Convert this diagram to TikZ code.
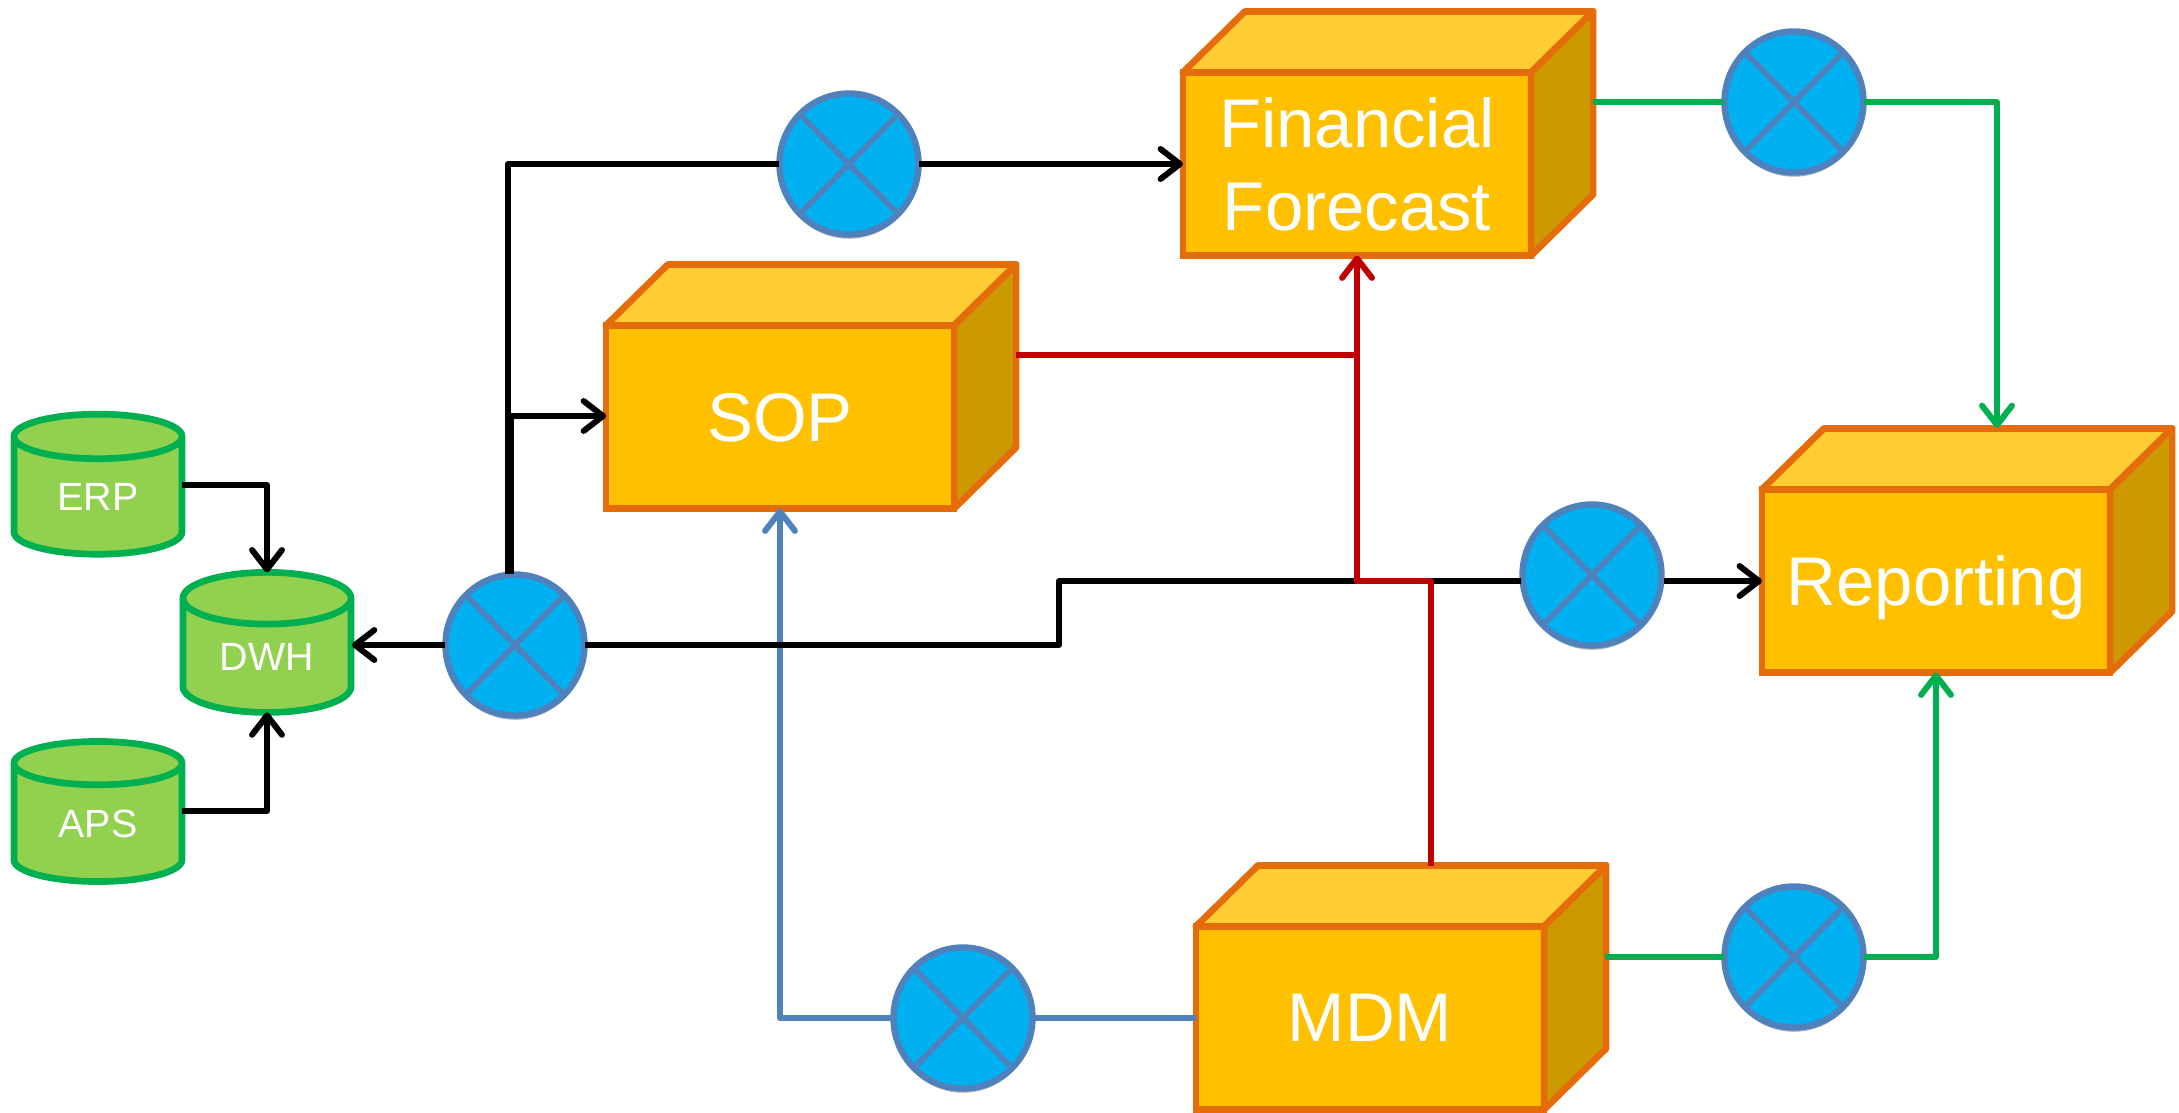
\documentclass[tikz,border=0pt]{standalone}
\usepackage{fontspec}
\setmainfont{Liberation Sans}
\usetikzlibrary{arrows.meta,shapes.geometric,shadows}
\definecolor{boxline}{HTML}{E46C0A}
\definecolor{boxfront}{HTML}{FFC000}
\definecolor{boxtop}{HTML}{FFCD33}
\definecolor{boxside}{HTML}{CC9A00}
\definecolor{dbline}{HTML}{00B050}
\definecolor{dbfill}{HTML}{92D050}
\definecolor{mixfill}{HTML}{00B0F0}
\definecolor{mixline}{HTML}{4F81BD}
\definecolor{redline}{HTML}{C00000}
\tikzset{
	boxnode/.style={rectangle,draw=boxline,fill=boxfront,line width=1.9pt,outer sep=0pt,
		minimum width=3.48cm,minimum height=1.83cm,text=white,align=center,text depth=0pt,
		font=\fontsize{19.6pt}{23.4pt}\selectfont},
	boxface/.style={draw=boxline,line width=1.9pt,line join=round},
	dbnode/.style={cylinder,shape border rotate=90,aspect=0.55,draw=dbline,fill=dbfill,
		line width=1.9pt,outer sep=0pt,inner sep=0pt,minimum width=1.68cm,minimum height=1.40cm,
		text=white,font=\fontsize{11.2pt}{13pt}\selectfont},
	mixnode/.style={ellipse,draw=mixline,fill=mixfill,line width=1.8pt,outer sep=0pt,inner sep=0pt,
		minimum width=1.39cm,minimum height=1.41cm,
		drop shadow={shadow xshift=0pt,shadow yshift=-1.2pt,fill=gray,opacity=0.6}},
	mixcross/.style={draw=mixline,line width=1.6pt},
	wire/.style={line width=1.7pt,line join=round},
}
\begin{document}
\begin{tikzpicture}[x=0.01cm,y=-0.01cm,>={Straight Barb[length=5.5pt,width=8.5pt,round]}]
	\useasboundingbox (0,0) rectangle (2179,1112);
	% boxes
	\foreach \name/\x/\y/\txt in {fin/1357/164/{Financial\\Forecast},sop/780/417/SOP,rep/1936/581/Reporting,mdm/1370/1018/MDM}{
		\node[boxnode] (\name) at (\x,\y) {\txt};
		\draw[boxface,fill=boxtop] (\name.north west) -- ++(62,-61) -- ++(348,0) -- (\name.north east) -- cycle;
		\draw[boxface,fill=boxside] (\name.north east) -- ++(62,-61) -- ++(0,183) -- (\name.south east) -- cycle;
	}
	% databases
	\foreach \name/\x/\y/\txt in {erp/98/497/ERP,dwh/267/657/DWH,aps/98/824/APS}{
		\node[dbnode] (\name) at (\x,\y) {\txt};
	}
	% mixers
	\foreach \name/\x/\y in {mixtop/849/164,mixfin/1794/102,mixrep/1592/575,mixdwh/515/645,mixsop/963/1018,mixmdm/1794/957}{
		\node[mixnode] (\name) at (\x,\y) {};
		\draw[mixcross] (\name.north west) -- (\name.south east);
		\draw[mixcross] (\name.north east) -- (\name.south west);
	}
	\coordinate (finout) at (1593,102);
	\coordinate (mdmout) at (1605,957);
	\coordinate (sopout) at (1016,355);
	\coordinate (erpout) at (182,485);
	\coordinate (apsout) at (182,811);
	\coordinate (dwhin) at (352,645);
	\coordinate (upper) at (508,574);
	\coordinate (lower) at (511,574);
	\coordinate (sopin) at (606,416);
	\coordinate (mdmtop) at (1431,866);
	\coordinate (fork) at (1357,581);
	\coordinate (stepa) at (1059,645);
	\coordinate (stepb) at (1059,581);
	\coordinate (repin) at (1521,581);
	\coordinate (repout) at (1664,581);
	\coordinate (reptop) at (1997,428);
	% blue
	\draw[wire,mixline,->] (mixsop.west) -| (sop.south);
	\draw[wire,mixline] (mdm.west) -- (mixsop.east);
	% black
	\draw[wire,->] (erpout) -| (dwh.north);
	\draw[wire,->] (apsout) -| (dwh.south);
	\draw[wire,->] (mixdwh.west) -- (dwhin);
	\draw[wire] (upper) |- (mixtop.west);
	\draw[wire,->] (mixtop.east) -- (fin.west);
	\draw[wire,->] (lower) |- (sopin);
	\draw[wire] (mixdwh.east) -- (stepa) -- (stepb) -- (repin);
	\draw[wire,->] (repout) -- (rep.west);
	% red
	\draw[wire,redline,->] (mdmtop) |- (fork) -- (fin.south);
	\draw[wire,redline] (sopout) -| (fork);
	% green
	\draw[wire,dbline] (finout) -- (mixfin.west);
	\draw[wire,dbline,->] (mixfin.east) -| (reptop);
	\draw[wire,dbline] (mdmout) -- (mixmdm.west);
	\draw[wire,dbline,->] (mixmdm.east) -| (rep.south);
\end{tikzpicture}
\end{document}
